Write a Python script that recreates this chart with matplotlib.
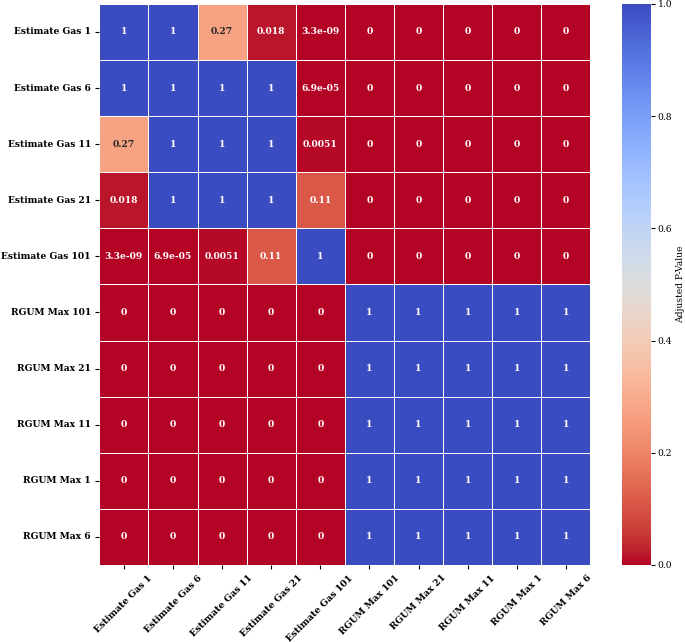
import numpy as np
import pandas as pd
import matplotlib
matplotlib.use("Agg")
import matplotlib.pyplot as plt
import seaborn as sns

# ── Data ────────────────────────────────────────────────────────────────────
labels = [
    "Estimate Gas 1", "Estimate Gas 6", "Estimate Gas 11", "Estimate Gas 21",
    "Estimate Gas 101", "RGUM Max 101", "RGUM Max 21", "RGUM Max 11",
    "RGUM Max 1", "RGUM Max 6",
]

# adjusted p-values among the Estimate Gas group (upper block)
est_block = [
    [1.0,     1.0,     0.27,   0.018, 3.3e-09],
    [1.0,     1.0,     1.0,    1.0,   6.9e-05],
    [0.27,    1.0,     1.0,    1.0,   0.0051],
    [0.018,   1.0,     1.0,    1.0,   0.11],
    [3.3e-09, 6.9e-05, 0.0051, 0.11,  1.0],
]
# RGUM Max group: all comparisons 1
rgum_block = [[1, 1, 1, 1, 1]] * 5
# cross comparisons: all 0
cross_block = [[0, 0, 0, 0, 0]] * 5

pvals = np.block([
    [np.array(est_block), np.array(cross_block, dtype=float)],
    [np.array(cross_block, dtype=float), np.array(rgum_block, dtype=float)],
])
df = pd.DataFrame(pvals, index=labels, columns=labels)

# ── Plot ────────────────────────────────────────────────────────────────────
plt.rcParams.update({
    "font.family": "DejaVu Serif",
    "font.size": 6.6,
})

fig = plt.figure(figsize=(6.85, 6.42), dpi=100)
ax = fig.add_axes([0.145, 0.12, 0.717, 0.874])
cax = fig.add_axes([0.908, 0.12, 0.042, 0.874])

sns.heatmap(
    df, ax=ax, cbar_ax=cax,
    cmap="coolwarm_r", vmin=0, vmax=1,
    annot=True, fmt=".2g",
    annot_kws={"fontsize": 6.6, "fontweight": "bold"},
    linewidths=0.5, linecolor="white",
)

ax.set_xticklabels(labels, rotation=45, ha="center", fontweight="bold", fontsize=6.6)
ax.set_yticklabels(labels, rotation=0, fontweight="bold", fontsize=6.6)
ax.tick_params(length=3, width=0.8, pad=3)
cax.tick_params(labelsize=6.6, length=3, width=0.8, pad=2)
cax.set_ylabel("Adjusted P-Value", fontsize=6.6, labelpad=3)

plt.savefig("out.png", dpi=100, facecolor="white")
plt.close(fig)
